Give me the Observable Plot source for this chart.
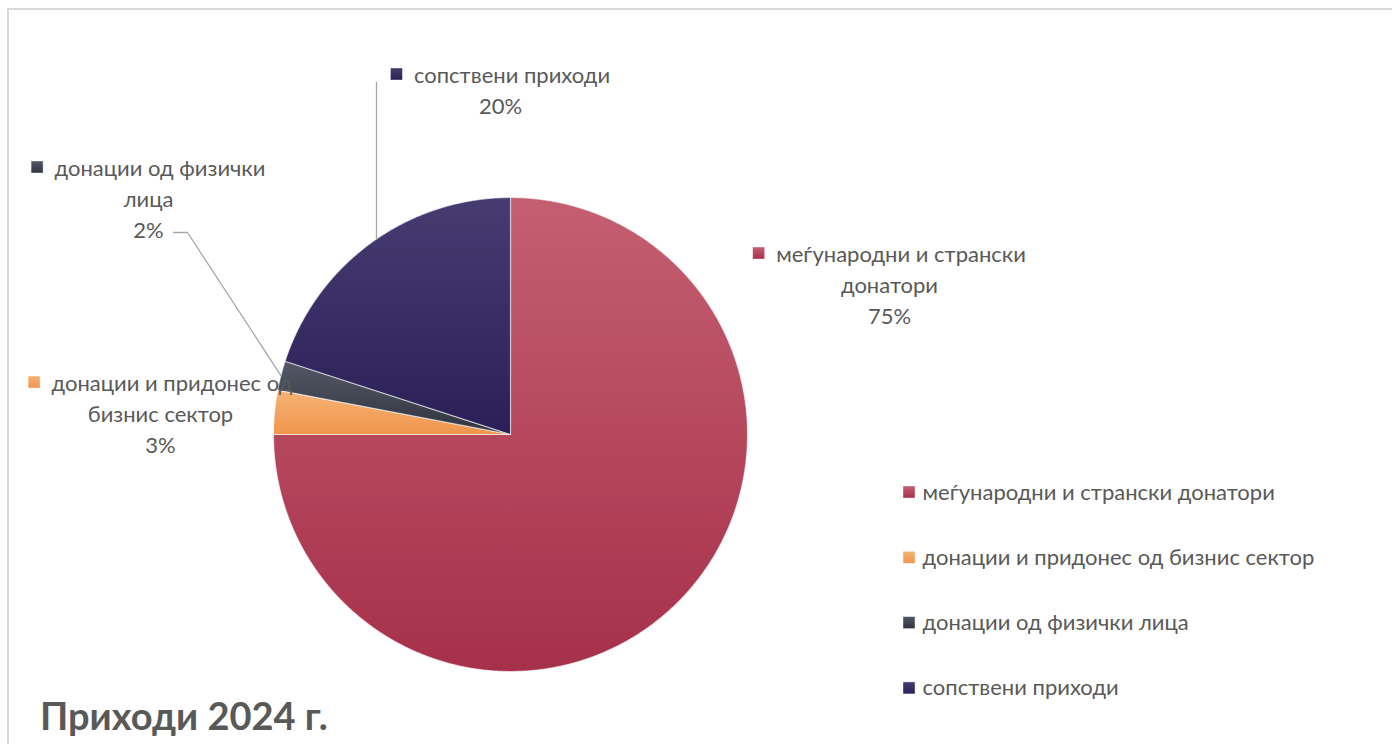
<!DOCTYPE html>
<html><head><meta charset="utf-8">
<script src="https://cdn.jsdelivr.net/npm/d3@7"></script>
<script src="https://cdn.jsdelivr.net/npm/@observablehq/plot@0.6"></script>
<style>
html,body{margin:0;padding:0;background:#fff;overflow:hidden}
#wrap{position:relative;width:1392px;height:744px;overflow:hidden}
#frame{position:absolute;left:7px;top:8px;width:1500px;height:900px;border-left:2px solid #d9d9d9;border-top:2px solid #d9d9d9;}
#chart{position:absolute;left:0;top:0}
#title{position:absolute;left:40px;top:695px;font:bold 38px Lato,"Open Sans",sans-serif;line-height:40px;color:#595959;white-space:nowrap}
</style></head><body><div id="wrap"><div id="frame"></div><div id="chart"></div><div id="title">Приходи 2024 г.</div></div>
<script>
// ---- data ----
const categories = ["меѓународни и странски донатори","донации и придонес од бизнис сектор","донации од физички лица","сопствени приходи"];
const shares = [75, 3, 2, 20];
const percentLabels = ["75%", "3%", "2%", "20%"];
const labelLines = [["меѓународни и странски","донатори"],["донации и придонес од","бизнис сектор"],["донации од физички","лица"],["сопствени приходи"]];

// ---- style / layout ----
const W = 1392, H = 744, CX = 510, CY = 434, R = 237;
const FONT = "Lato, 'Open Sans', sans-serif", FS = 22, LH = 31, TXT = "#595959";
const gradStops = [["#c45f70","#a6304a"],["#f7b375","#ef954c"],["#545866","#31343f"],["#463c72","#2a1f56"]];
const labelLayout = [{cx:889,y:254},{cx:160,y:383},{cx:148,y:168},{cx:500,y:75}];
const legendLayout = {x:903, y:492, step:65.3, box:12, gap:7};
const toX = px => (px - CX) / R, toY = py => (CY - py) / R;

const canvas = document.createElement("canvas").getContext("2d");
canvas.font = `${FS}px ${FONT}`;
const tw = s => canvas.measureText(s).width;

const arcs = d3.pie().sort(null).value(d => d)(shares);
const slicePts = [];
arcs.forEach((a, i) => {
  slicePts.push({k: categories[i], x: 0, y: 0});
  const n = Math.max(4, Math.ceil((a.endAngle - a.startAngle) / 0.005));
  for (let j = 0; j <= n; j++) {
    const t = a.startAngle + (a.endAngle - a.startAngle) * j / n;
    slicePts.push({k: categories[i], x: Math.sin(t), y: Math.cos(t)});
  }
  slicePts.push({k: categories[i], x: 0, y: 0});
});

// leader lines
const leaders = [];
{ // сопствени приходи: vertical leader
  const t = 2*Math.PI - Math.asin((CX - 376) / R);
  leaders.push({k:3, x: Math.sin(t), y: Math.cos(t)}, {k:3, x: Math.sin(t), y: toY(82)});
  // донации од физички лица
  const a = arcs[2], m = (a.startAngle + a.endAngle) / 2;
  leaders.push({k:2, x: Math.sin(m), y: Math.cos(m)}, {k:2, x: toX(187), y: toY(232)}, {k:2, x: toX(173), y: toY(232)});
}

// label text rows + markers
const textRows = [], markers = [];
const box = legendLayout.box;
categories.forEach((c, i) => {
  const L = labelLayout[i];
  const lines = [...labelLines[i], percentLabels[i]];
  const first = lines[0];
  const wFirst = box + 11 + tw(first);
  const x0 = L.cx - wFirst / 2;
  markers.push({k: c, x1: toX(x0), x2: toX(x0 + box), y1: toY(L.y - box/2 - 1), y2: toY(L.y + box/2 - 1)});
  textRows.push({x: toX(x0 + box + 11), y: toY(L.y), t: first, a: "start"});
  lines.slice(1).forEach((s, j) => textRows.push({x: toX(L.cx), y: toY(L.y + LH * (j + 1)), t: s, a: "middle"}));
});
categories.forEach((c, i) => {
  const y = legendLayout.y + legendLayout.step * i;
  markers.push({k: c, x1: toX(legendLayout.x), x2: toX(legendLayout.x + box), y1: toY(y - box/2), y2: toY(y + box/2)});
  textRows.push({x: toX(legendLayout.x + box + legendLayout.gap), y: toY(y), t: c, a: "start"});
});

const gradIds = categories.map((c, i) => `url(#g${i})`);
const chart = Plot.plot({
  width: W, height: H, margin: 0,
  x: {domain: [toX(0), toX(W)], axis: null},
  y: {domain: [toY(H), toY(0)], axis: null},
  color: {domain: categories, range: gradIds},
  style: {background: "transparent", fontFamily: FONT, fontSize: FS + "px"},
  marks: [
    Plot.line(slicePts, {x: "x", y: "y", z: "k", fill: "k", stroke: "#ffffff", strokeOpacity: 0.55, strokeWidth: 1.2, curve: "linear-closed"}),
    Plot.line(leaders, {x: "x", y: "y", z: "k", stroke: "#a6a6a6", strokeWidth: 1.3}),
    Plot.rect(markers, {x1: "x1", x2: "x2", y1: "y1", y2: "y2", fill: "k", stroke: "#ffffff", strokeOpacity: 0.5, strokeWidth: 0.8}),
    Plot.text(textRows.filter(d => d.a === "start"), {x: "x", y: "y", text: "t", textAnchor: "start", fill: TXT, fontSize: FS}),
    Plot.text(textRows.filter(d => d.a === "middle"), {x: "x", y: "y", text: "t", textAnchor: "middle", fill: TXT, fontSize: FS})
  ]
});
// gradients
const svg = d3.select(chart);
const defs = svg.insert("defs", ":first-child");
gradStops.forEach((s, i) => {
  const g = defs.append("linearGradient").attr("id", "g" + i).attr("x1", 0).attr("y1", 0).attr("x2", 0).attr("y2", 1);
  g.append("stop").attr("offset", "0%").attr("stop-color", s[0]);
  g.append("stop").attr("offset", "100%").attr("stop-color", s[1]);
});
document.getElementById("chart").appendChild(chart);
</script>
</body></html>
